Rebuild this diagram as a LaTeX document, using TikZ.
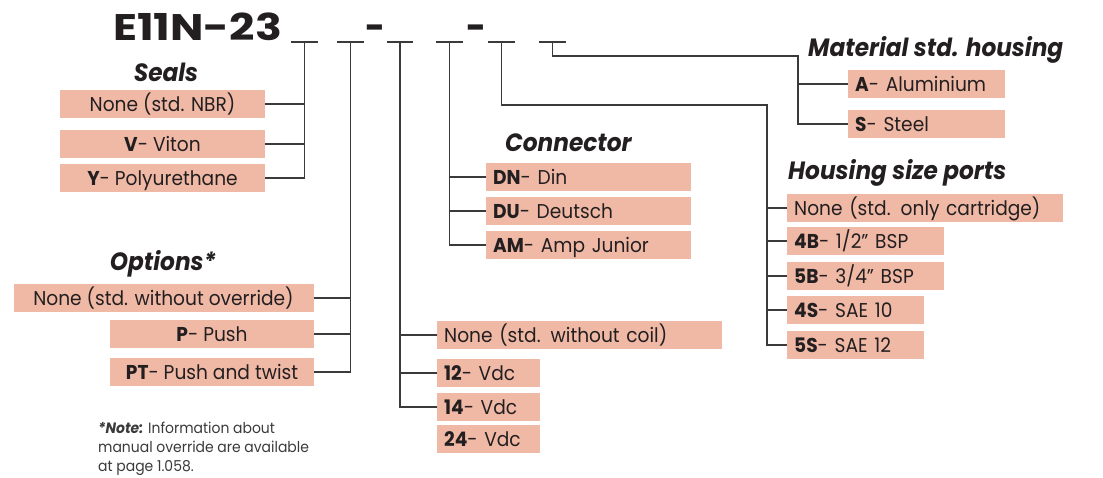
\documentclass[tikz,border=0pt]{standalone}
\usepackage{fontspec}
\setmainfont{Poppins}[FakeStretch=0.93]
\newfontfamily\titlefont{Poppins}[FakeStretch=1.2]
\usetikzlibrary{positioning,calc}
\definecolor{boxfill}{HTML}{F0B9A6}
\definecolor{ink}{HTML}{231F20}
\definecolor{wirecol}{HTML}{3A3A3A}

\begin{document}
\begin{tikzpicture}[x=1pt, y=-1pt,
  opt/.style={rectangle, fill=boxfill, minimum height=28pt, inner ysep=0pt, text=ink, text height=16pt, text depth=2pt, font=\fontsize{20}{24}\selectfont},
  optc/.style={opt, minimum width=#1, inner xsep=0pt, align=center},
  optl/.style={opt, anchor=west, text width=#1, inner xsep=7pt, align=left},
  head/.style={inner sep=0pt, text=ink, font=\fontsize{25}{28}\selectfont\bfseries\itshape},
  code/.style={inner sep=0pt, text=ink, font=\titlefont\fontsize{37}{37}\selectfont\bfseries},
  codedash/.style={inner sep=0pt, text=ink, font=\fontsize{37}{37}\selectfont\bfseries},
  wire/.style={draw=wirecol, line width=1.3pt},
  note/.style={inner sep=0pt, text=wirecol, align=left, font=\fontsize{15}{19}\selectfont}
]
  \useasboundingbox (0,0) rectangle (1103,477);

  % code line
  \node[code, anchor=base west] (title) at (113,40) {E11N-23};
  \node[codedash, anchor=base] (dash1) at (375,40) {-};
  \node[codedash, anchor=base] (dash2) at (476.5,40) {-};
  \foreach \n/\a/\b in {1/291/318, 2/337/364, 3/387/413, 4/436/463, 5/488/515, 6/539/566}{
    \coordinate (s\n a) at (\a,42);
    \coordinate (s\n b) at (\b,42);
    \coordinate (s\n) at ($(s\n a)!0.5!(s\n b)$);
    \draw[wire] (s\n a) -- (s\n b);
  }

  % seals
  \node[head] (sealshead) at (166,72) {Seals};
  \node[optc=205pt] (seal0) at (162.5,104) {None (std. NBR)};
  \node[optc=205pt] (seal1) at (162.5,144) {\textbf{V}- Viton};
  \node[optc=205pt] (seal2) at (162.5,178) {\textbf{Y}- Polyurethane};
  \draw[wire] (s1) |- (seal2.east);
  \foreach \b in {seal0, seal1}{\draw[wire] (\b.east) -- (\b.east -| s1);}

  % options
  \node[head] (opthead) at (163,264) {Options*};
  \node[optc=300pt] (opt0) at (163.5,298) {None (std. without override)};
  \node[optc=204pt] (opt1) at (212,334) {\textbf{P}- Push};
  \node[optc=204pt] (opt2) at (212,372) {\textbf{PT}- Push and twist};
  \draw[wire] (s2) |- (opt2.east);
  \foreach \b in {opt0, opt1}{\draw[wire] (\b.east) -- (\b.east -| s2);}
  \node[note, anchor=north west] (note) at (98,422) {\textbf{\textit{*Note:}} Information about\\manual override are available\\at page 1.058.};

  % coil
  \node[optl=271pt] (coil0) at (437,335) {None (std. without coil)};
  \node[optl=89pt] (coil1) at (437,373) {\textbf{12}- Vdc};
  \node[optl=89pt] (coil2) at (437,407) {\textbf{14}- Vdc};
  \node[optl=89pt] (coil3) at (437,439) {\textbf{24}- Vdc};
  \draw[wire] (s3) |- (coil2.west);
  \foreach \b in {coil0, coil1}{\draw[wire] (\b.west) -- (\b.west -| s3);}

  % connector
  \node[head, anchor=west] (conhead) at (505,143) {Connector};
  \node[optl=191pt] (con0) at (486,177) {\textbf{DN}- Din};
  \node[optl=191pt] (con1) at (486,211) {\textbf{DU}- Deutsch};
  \node[optl=191pt] (con2) at (486,245) {\textbf{AM}- Amp Junior};
  \draw[wire] (s4) |- (con2.west);
  \foreach \b in {con0, con1}{\draw[wire] (\b.west) -- (\b.west -| s4);}

  % housing size ports
  \node[head, anchor=west] (hphead) at (788,173) {Housing size ports};
  \node[optl=262pt] (hp0) at (787,208) {None (std. only cartridge)};
  \node[optl=143pt] (hp1) at (787,241) {\textbf{4B}- 1/2” BSP};
  \node[optl=143pt] (hp2) at (787,276) {\textbf{5B}- 3/4” BSP};
  \node[optl=123pt] (hp3) at (787,310) {\textbf{4S}- SAE 10};
  \node[optl=123pt] (hp4) at (787,345) {\textbf{5S}- SAE 12};
  \coordinate (hpbend) at (767,105);
  \draw[wire] (s5) |- (hpbend) |- (hp4.west);
  \foreach \b in {hp0, hp1, hp2, hp3}{\draw[wire] (\b.west) -- (\b.west -| hpbend);}

  % material
  \node[head, anchor=west] (mathead) at (808,50) {Material std. housing};
  \node[optl=143pt] (mat0) at (848,84) {\textbf{A}- Aluminium};
  \node[optl=143pt] (mat1) at (848,124) {\textbf{S}- Steel};
  \coordinate (matbend) at (798,56);
  \draw[wire] (s6) |- (matbend) |- (mat1.west);
  \draw[wire] (mat0.west) -- (mat0.west -| matbend);
\end{tikzpicture}
\end{document}
